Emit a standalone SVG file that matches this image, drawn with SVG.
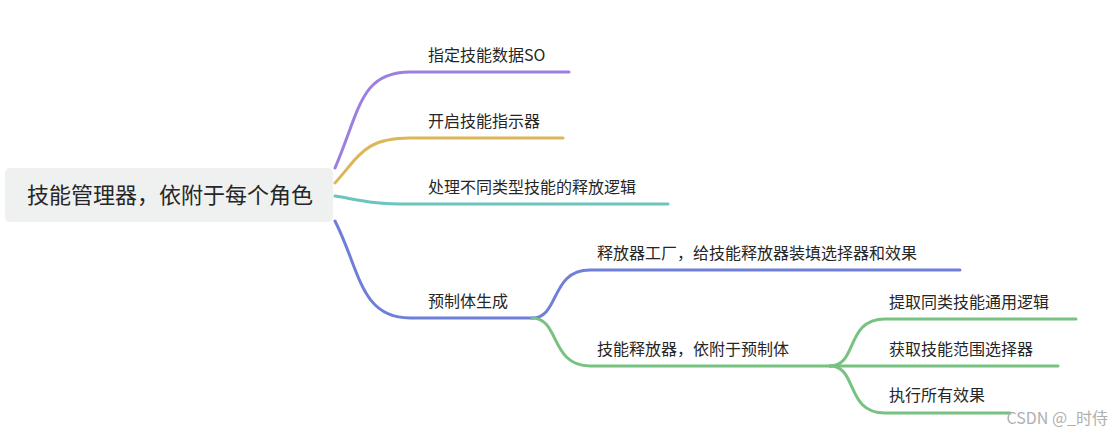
<svg xmlns="http://www.w3.org/2000/svg" width="1113" height="438" viewBox="0 0 1113 438">
<style>
text{font-family:"Noto Sans CJK SC","Liberation Sans",sans-serif;fill:#262626}
.l{font-size:16px}
path{fill:none;stroke-width:3;stroke-linecap:round}
</style>
<rect width="1113" height="438" fill="#fff"/>
<g id="connectors">
<path d="M335,168 C360,110 360,72 410,72 L569,72" stroke="#9d7fe0"/>
<path d="M335,183 C360,155 365,138 410,138 L563,138" stroke="#dbb759"/>
<path d="M335,196 C360,200 370,204 410,204 L668,204" stroke="#6cc4c0"/>
<path d="M335,221 C360,270 360,318 410,318 L532,318" stroke="#6f7fd9"/>
<path d="M532,318 C560,318 550,270 590,270 L960,270" stroke="#6f7fd9"/>
<path d="M532,318 C560,318 550,366 590,366 L830,366" stroke="#78c281"/>
<path d="M830,366 C858,366 845,319 885,319 L1076,319" stroke="#78c281"/>
<path d="M830,366 L1058,366" stroke="#78c281"/>
<path d="M830,366 C858,366 845,413 885,413 L1010,413" stroke="#78c281"/>
</g>
<g id="root"><rect x="5" y="168" width="328" height="54" rx="5" fill="#eff0f0"/><text x="170" y="203" font-size="22" text-anchor="middle">技能管理器，依附于每个角色</text></g>
<g id="n1"><text class="l" x="428" y="61">指定技能数据SO</text></g>
<g id="n2"><text class="l" x="428" y="127">开启技能指示器</text></g>
<g id="n3"><text class="l" x="428" y="193">处理不同类型技能的释放逻辑</text></g>
<g id="n4"><text class="l" x="428" y="307">预制体生成</text></g>
<g id="n5"><text class="l" x="597" y="259">释放器工厂，给技能释放器装填选择器和效果</text></g>
<g id="n6"><text class="l" x="597" y="355">技能释放器，依附于预制体</text></g>
<g id="n7"><text class="l" x="889" y="308">提取同类技能通用逻辑</text></g>
<g id="n8"><text class="l" x="889" y="355">获取技能范围选择器</text></g>
<g id="n9"><text class="l" x="889" y="401">执行所有效果</text></g>
<text x="1108" y="424" font-size="16" text-anchor="end" style="fill:#b0b0b0">CSDN @_时侍</text>
</svg>
